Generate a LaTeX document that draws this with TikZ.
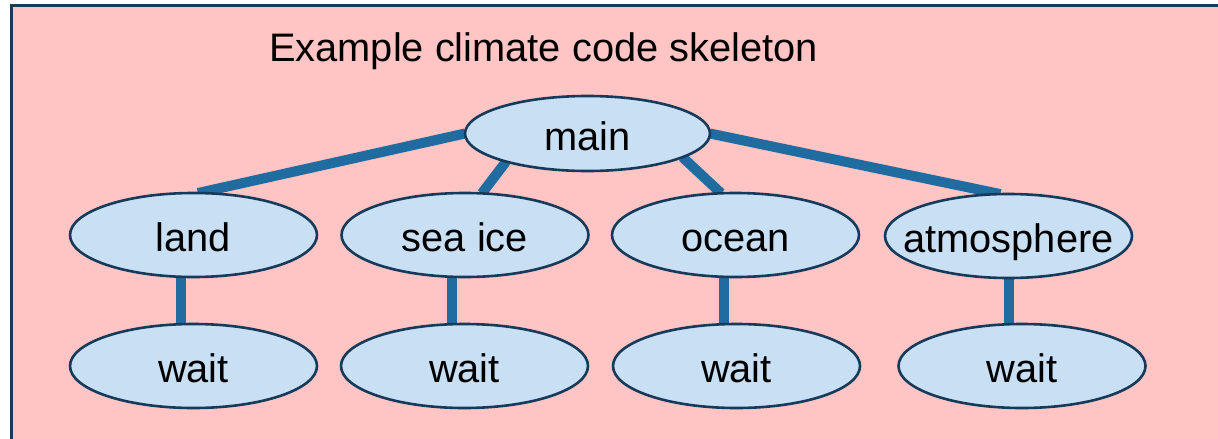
\documentclass[tikz,border=0pt]{standalone}
\usepackage{fontspec}
\setmainfont{Liberation Sans}
\usetikzlibrary{shapes.geometric}
\pgfdeclarelayer{framelayer}
\pgfdeclarelayer{edgelayer}
\pgfsetlayers{framelayer,edgelayer,main}
\definecolor{pinkbg}{HTML}{FFC5C5}
\definecolor{framecol}{HTML}{1B3A55}
\definecolor{ellfill}{HTML}{C9DFF3}
\definecolor{ellborder}{HTML}{163A5A}
\definecolor{linkcol}{HTML}{206B9F}
\tikzset{
  blob/.style={ellipse, draw=ellborder, fill=ellfill, line width=2.6pt,
    inner sep=0pt, outer sep=0pt, minimum width=247pt, minimum height=84pt,
    text height=41pt, text depth=8pt,
    font=\fontsize{39.8}{44}\selectfont},
  link/.style={draw=linkcol, line width=10pt},
}
\newcommand{\zw}[1]{\makebox[0pt][c]{#1}}
\begin{document}
\begin{tikzpicture}[x=1pt,y=-1pt]
\useasboundingbox (0,0) rectangle (1218,439);
\begin{pgfonlayer}{framelayer}
\clip (0,0) rectangle (1218,439);
\draw[draw=framecol, fill=pinkbg, line width=3pt] (11,5.5) rectangle (1240,460);
\end{pgfonlayer}
\node[anchor=base west, inner sep=0pt, font=\fontsize{39.8}{44}\selectfont] (title) at (269,61) {Example climate code skeleton};
\node[blob, minimum width=245pt, minimum height=75pt] (main) at (587.5,133.5) {\zw{main}};
\node[blob] (land) at (193.5,235) {\zw{land}};
\node[blob] (seaice) at (465,235) {\zw{sea ice}};
\node[blob] (ocean) at (735.5,235) {\zw{ocean}};
\node[blob] (atmos) at (1008.5,236) {\zw{atmosphere}};
\node[blob] (landw) at (193.5,366) {\zw{wait}};
\node[blob] (seaicew) at (464.5,366) {\zw{wait}};
\node[blob] (oceanw) at (736.5,366) {\zw{wait}};
\node[blob] (atmosw) at (1022,366) {\zw{wait}};
\begin{pgfonlayer}{edgelayer}
\draw[link] (main.180) -- (land.84);
\draw[link] (main.199) -- (seaice.68);
\draw[link] (main.346) -- (ocean.109);
\draw[link] (main.0) -- (atmos.101);
\draw[link] ([xshift=-13pt]land.center) -- ([xshift=-13pt]land.center |- landw.center);
\draw[link] ([xshift=-13pt]seaice.center) -- ([xshift=-13pt]seaice.center |- seaicew.center);
\draw[link] ([xshift=-12pt]ocean.center) -- ([xshift=-12pt]ocean.center |- oceanw.center);
\draw[link] (atmos.center) -- (atmos.center |- atmosw.center);
\end{pgfonlayer}
\end{tikzpicture}
\end{document}
